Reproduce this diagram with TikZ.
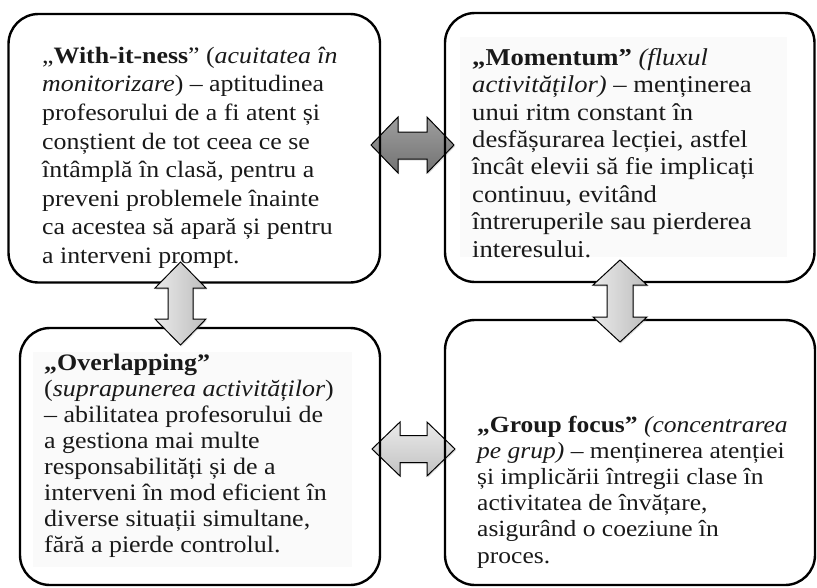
\documentclass[tikz,border=0pt]{standalone}
\usepackage{fontspec}
\setmainfont{Liberation Serif}[FakeStretch=1.1]
\usetikzlibrary{shadows}
\begin{document}
\begin{tikzpicture}[x=1pt,y=-1pt,
  box/.style={draw=black, line width=2.4pt, rounded corners=30pt, inner sep=0pt},
  txt/.style={anchor=base west, inner sep=0pt, align=left, text=black!90},
  darkarr/.style={draw=black, line width=1pt, line join=miter, top color=black!38, bottom color=black!55,
     drop shadow={opacity=0.25, shadow xshift=1pt, shadow yshift=-1.5pt}},
  lightarrh/.style={draw=black, line width=1pt, line join=miter, top color=black!8, bottom color=black!24,
     drop shadow={opacity=0.25, shadow xshift=1pt, shadow yshift=-1.5pt}},
  lightarrv/.style={draw=black, line width=1pt, line join=miter, left color=black!8, right color=black!26,
     drop shadow={opacity=0.25, shadow xshift=1pt, shadow yshift=-1.5pt}},
  tbg/.style={fill=black!2}
]
\useasboundingbox (0,0) rectangle (817,587);
% text backgrounds
\fill[tbg] (460,37) rectangle (787,257);
\fill[tbg] (33,352) rectangle (352,567);
% horizontal arrows (behind box borders)
\path[darkarr] (371,145) -- (398,117) -- (398,132) -- (427,132) -- (427,117) -- (454,145)
  -- (427,173) -- (427,159) -- (398,159) -- (398,173) -- cycle;
\path[lightarrh] (372,449) -- (400,422) -- (400,435.5) -- (427,435.5) -- (427,422) -- (455,449)
  -- (427,476) -- (427,462.5) -- (400,462.5) -- (400,476) -- cycle;
% boxes
\node[box, minimum width=371.5pt, minimum height=268.5pt] (tl) at (194.25,148.25) {};
\node[box, minimum width=369.5pt, minimum height=269pt] (tr) at (629.75,147.5) {};
\node[box, minimum width=360pt, minimum height=257pt] (bl) at (200,456.5) {};
\node[box, minimum width=370pt, minimum height=265pt] (br) at (630,452.5) {};
% vertical arrows (on top)
\path[lightarrv] (180.5,262) -- (206,288) -- (193,288) -- (193,319) -- (206,319) -- (180.5,345)
  -- (155,319) -- (168,319) -- (168,288) -- (155,288) -- cycle;
\path[lightarrv] (620,260) -- (647,285) -- (633,285) -- (633,317) -- (647,317) -- (620,342)
  -- (593,317) -- (607,317) -- (607,285) -- (593,285) -- cycle;
% texts (anchored at the baseline of the last line)
\node[txt, font=\fontsize{23.5}{28.6}\selectfont] (ttl) at (42,263.5)
  {„\textbf{With-it-ness}” (\textit{acuitatea în}\\
   \textit{monitorizare}) – aptitudinea\\
   profesorului de a fi atent și\\
   conștient de tot ceea ce se\\
   întâmplă în clasă, pentru a\\
   preveni problemele înainte\\
   ca acestea să apară și pentru\\
   a interveni prompt.};
\node[txt, font=\fontsize{24.2}{27.4}\selectfont] (ttr) at (472,257)
  {\textbf{„Momentum”} \textit{(fluxul}\\
   \textit{activităților)} – menținerea\\
   unui ritm constant în\\
   desfășurarea lecției, astfel\\
   încât elevii să fie implicați\\
   continuu, evitând\\
   întreruperile sau pierderea\\
   interesului.};
\node[txt, font=\fontsize{23.6}{26}\selectfont] (tbl) at (44,552)
  {\textbf{„Overlapping”}\\
   (\textit{suprapunerea activităților})\\
   – abilitatea profesorului de\\
   a gestiona mai multe\\
   responsabilități și de a\\
   interveni în mod eficient în\\
   diverse situații simultane,\\
   fără a pierde controlul.};
\node[txt, font=\fontsize{23.2}{26.2}\selectfont] (tbr) at (477,563)
  {\textbf{„Group focus”} \textit{(concentrarea}\\
   \textit{pe grup)} – menținerea atenției\\
   și implicării întregii clase în\\
   activitatea de învățare,\\
   asigurând o coeziune în\\
   proces.};
\end{tikzpicture}
\end{document}
